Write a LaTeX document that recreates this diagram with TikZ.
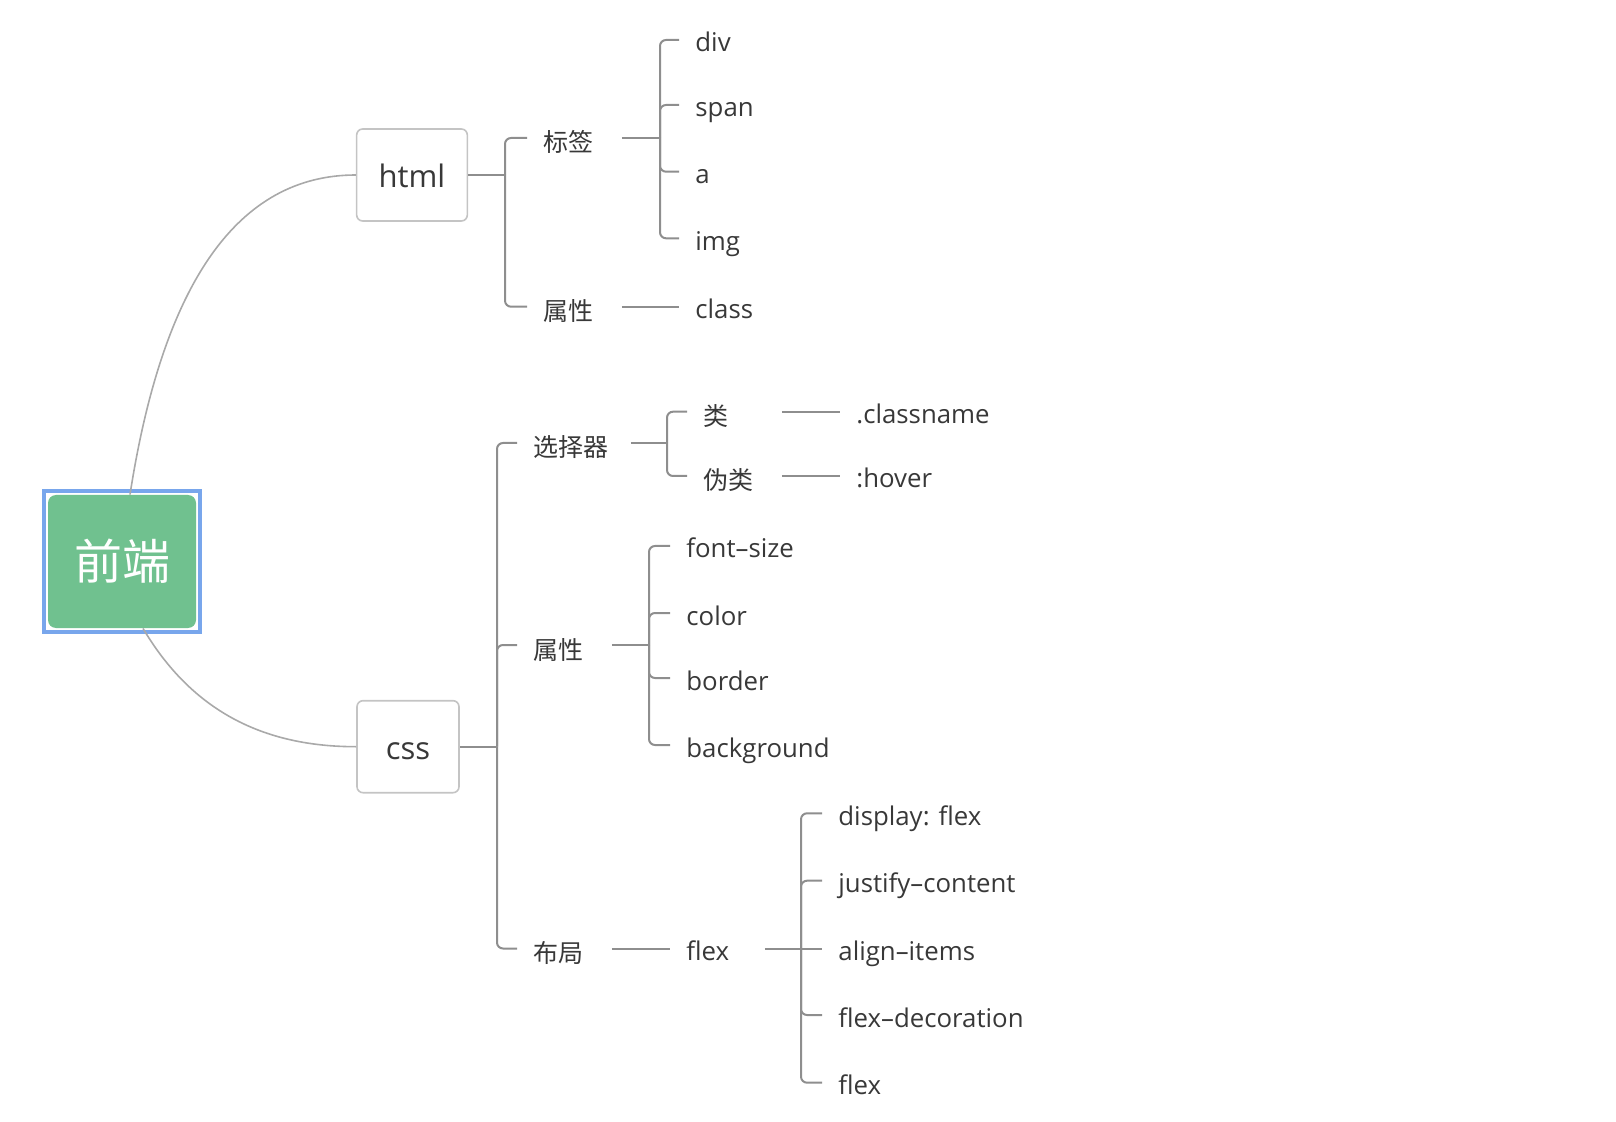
\documentclass[tikz,border=0pt]{standalone}
\usepackage{fontspec}
\setmainfont{Open Sans}
\newfontfamily\cjk{Noto Sans CJK SC}
\usetikzlibrary{positioning, calc}
\usepackage{xcolor}
\definecolor{rootgreen}{HTML}{70C18F}
\definecolor{selblue}{HTML}{78A6EC}
\definecolor{txtgray}{HTML}{383838}
\definecolor{linegray}{HTML}{8E8E8E}
\definecolor{curvegray}{HTML}{A9A9A9}
\definecolor{boxgray}{HTML}{C4C4C4}
\tikzstyle{root} = [rectangle, rounded corners=4pt, fill=rootgreen, text=white,
    minimum width=74pt, minimum height=66.5pt, font=\cjk\fontsize{24}{28}\selectfont]
\tikzstyle{mainbox} = [rectangle, rounded corners=3pt, draw=boxgray, line width=0.8pt, fill=white,
    minimum width=51pt, minimum height=46pt, inner xsep=11pt, text=txtgray,
    text height=13pt, text depth=0pt, font=\fontsize{15.5}{18}\selectfont]
\tikzstyle{leaf} = [anchor=west, inner xsep=8pt, inner ysep=2pt, text=txtgray,
    text height=13pt, text depth=1pt, font=\fontsize{12.9}{15}\selectfont]
\tikzstyle{subtopic} = [leaf, text width=31pt, align=left]
\tikzstyle{zh} = [text height=14.5pt, text depth=0.5pt, font=\cjk\fontsize{12.5}{15}\selectfont]
\tikzstyle{conn} = [draw=linegray, line width=1pt, rounded corners=3pt]
\tikzstyle{curve} = [draw=curvegray, line width=0.8pt]

\begin{document}
\begin{tikzpicture}[x=0.5pt, y=-0.5pt]
\useasboundingbox (0,0) rectangle (1616,1122);

\node (root) [root] at (122,561.5) {前端};
\draw[selblue, line width=2pt] ($(root.north west)+(-4,-4)$) rectangle ($(root.south east)+(4,4)$);
\node (html) [mainbox] at (412,175) {html};
\node (css) [mainbox] at (408,746.7) {css};
\draw[curve] ($(root.north)+(8,0)$) .. controls +(33,-212) and +(-118,0) .. (html.west);
\draw[curve] ($(root.south)+(21,0)$) .. controls +(48,81) and +(-95,0) .. (css.west);

% html
\coordinate (hb) at (505,175);
\node (tag) [subtopic, zh] at (527,138) {标签};
\node (hattr) [subtopic, zh] at (527,306.7) {属性};
\draw[conn] (html.east) -- (hb);
\draw[conn] (hb) |- (tag.west);
\draw[conn] (hb) |- (hattr.west);

\coordinate (tagb) at (660,138);
\node (div) [leaf] at (679,40) {div};
\node (span) [leaf] at (679,105) {span};
\node (a) [leaf] at (679,171.7) {a};
\node (img) [leaf] at (679,238.3) {img};
\draw[conn] (tag.east) -- (tagb);
\draw[conn] (tagb) |- (div.west);
\draw[conn] (tagb) |- (span.west);
\draw[conn] (tagb) |- (a.west);
\draw[conn] (tagb) |- (img.west);

\node (class) [leaf] at (679,306.7) {class};
\draw[conn] (hattr.east) -- (class.west);

% css
\coordinate (cb) at (497,746.7);
\node (sel) [subtopic, zh, text width=40.5pt] at (517,443) {选择器};
\node (cattr) [subtopic, zh] at (517,645) {属性};
\node (layout) [subtopic, zh] at (517,948.5) {布局};
\draw[conn] (css.east) -- (cb);
\draw[conn] (cb) |- (sel.west);
\draw[conn] (cb) |- (cattr.west);
\draw[conn] (cb) |- (layout.west);

\coordinate (selb) at (667,443);
\node (cls) [subtopic, zh] at (687,411.7) {类};
\node (pseudo) [subtopic, zh] at (687,476) {伪类};
\node (clsname) [leaf] at (840,411.7) {.classname};
\node (hover) [leaf] at (840,476) {:hover};
\draw[conn] (sel.east) -- (selb);
\draw[conn] (selb) |- (cls.west);
\draw[conn] (selb) |- (pseudo.west);
\draw[conn] (cls.east) -- (clsname.west);
\draw[conn] (pseudo.east) -- (hover.west);

\coordinate (cattrb) at (649,645);
\node (fsize) [leaf] at (670,546) {font–size};
\node (color) [leaf] at (670,613) {color};
\node (border) [leaf] at (670,678) {border};
\node (bg) [leaf] at (670,745) {background};
\draw[conn] (cattr.east) -- (cattrb);
\draw[conn] (cattrb) |- (fsize.west);
\draw[conn] (cattrb) |- (color.west);
\draw[conn] (cattrb) |- (border.west);
\draw[conn] (cattrb) |- (bg.west);

\node (flex) [subtopic] at (670,948.5) {flex};
\draw[conn] (layout.east) -- (flex.west);
\coordinate (flexb) at (801,948.5);
\node (display) [leaf] at (822,813.3) {display: flex};
\node (justify) [leaf] at (822,880.7) {justify–content};
\node (aitems) [leaf] at (822,948.5) {align–items};
\node (fdeco) [leaf] at (822,1015) {flex–decoration};
\node (flexleaf) [leaf] at (822,1082.7) {flex};
\draw[conn] (flex.east) -- (flexb);
\draw[conn] (flexb) |- (display.west);
\draw[conn] (flexb) |- (justify.west);
\draw[conn] (flexb) -- (aitems.west);
\draw[conn] (flexb) |- (fdeco.west);
\draw[conn] (flexb) |- (flexleaf.west);
\end{tikzpicture}
\end{document}
